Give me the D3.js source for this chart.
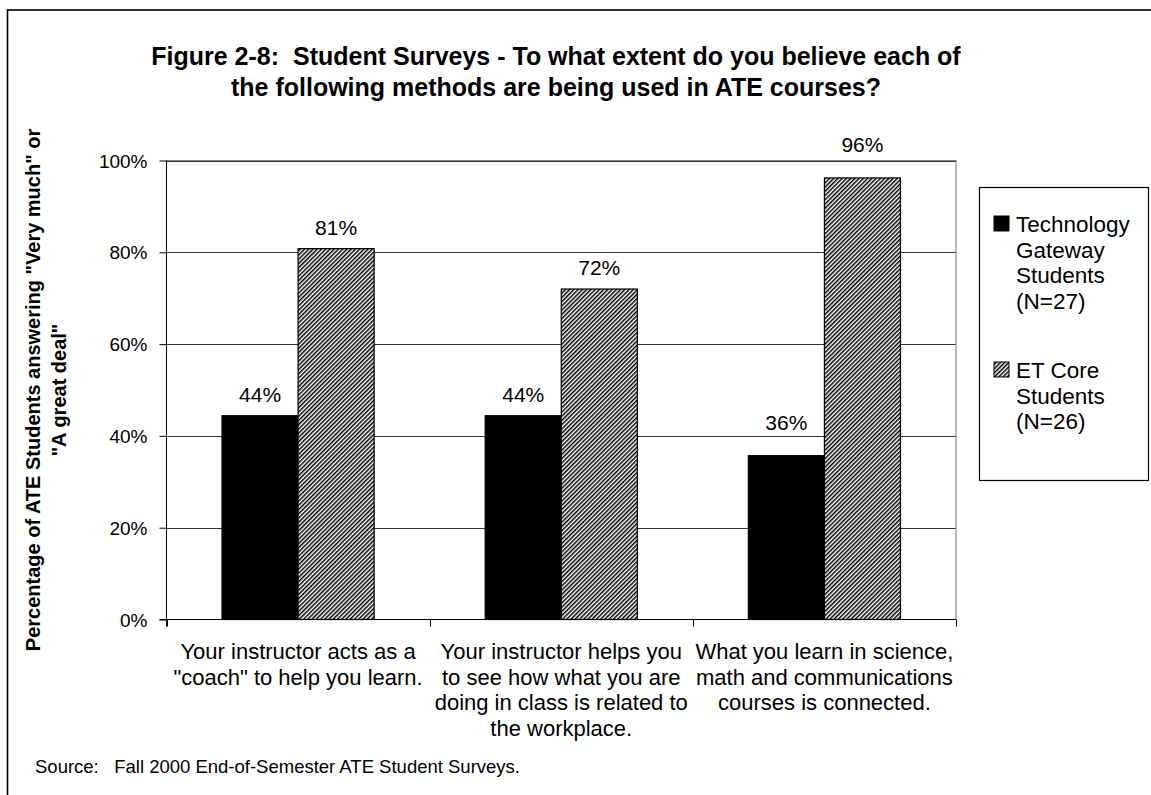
<!DOCTYPE html>
<head>
  <meta charset="utf-8">
  <script src="https://d3js.org/d3.v7.min.js"></script>
  <style>
    body { margin: 0; background: #fff; }
    text { font-family: 'Liberation Sans', Arial, sans-serif; fill: #000; white-space: pre; }
    .title { font-size: 25px; font-weight: bold; }
    .ytitle { font-size: 20px; font-weight: bold; }
    .lbl { font-size: 21px; }
    .cat { font-size: 22px; }
    .leg { font-size: 22.5px; }
    .src { font-size: 18.5px; }
  </style>
</head>
<body>
  <script>
    // values
    var categories = [
      "Your instructor acts as a\n\"coach\" to help you learn.",
      "Your instructor helps you\nto see how what you are\ndoing in class is related to\nthe workplace.",
      "What you learn in science,\nmath and communications\ncourses is connected."
    ];
    var seriesNames = ["Technology\nGateway\nStudents\n(N=27)", "ET Core\nStudents\n(N=26)"];
    var techGateway = [0.444, 0.444, 0.357];
    var etCore = [0.808, 0.72, 0.962];
    var yTicks = [0, 0.2, 0.4, 0.6, 0.8, 1];
    var titleLines = [
      "Figure 2-8:  Student Surveys - To what extent do you believe each of",
      "the following methods are being used in ATE courses?"
    ];
    var yTitleLines = [
      "Percentage of ATE Students answering \"Very much\" or",
      "\"A great deal\""
    ];
    var source = "Source:   Fall 2000 End-of-Semester ATE Student Surveys.";

    var W = 1151, H = 795;
    var plot = { left: 166.5, right: 956, top: 160.5, bottom: 619.5 };
    // the labels of the last group sit a little higher in the original
    var labelLift = [14, 14, 26];

    var svg = d3.select("body").append("svg")
        .attr("width", W)
        .attr("height", H);

    var defs = svg.append("defs");
    var pat = defs.append("pattern")
        .attr("id", "hatch")
        .attr("patternUnits", "userSpaceOnUse")
        .attr("width", 3)
        .attr("height", 3)
        .attr("patternTransform", "rotate(45)");
    pat.append("rect").attr("width", 3).attr("height", 3).attr("fill", "#fff");
    pat.append("rect").attr("width", 1.5).attr("height", 3).attr("fill", "#000");

    var data = categories.map(function(c, i) {
      return { cat: c, idx: i, values: [techGateway[i], etCore[i]] };
    });

    var x0 = d3.scaleBand()
        .domain(categories)
        .range([plot.left, plot.right]);

    var gap = x0.bandwidth() * 0.211;
    var x1 = d3.scaleBand()
        .domain([0, 1])
        .range([gap, x0.bandwidth() - gap]);

    var y = d3.scaleLinear()
        .domain([0, 1])
        .range([plot.bottom, plot.top]);

    // outer frame (runs off the page right and bottom)
    svg.append("rect")
        .attr("x", 7.5).attr("y", 10)
        .attr("width", 1200).attr("height", 900)
        .attr("fill", "none")
        .attr("stroke", "#000")
        .attr("stroke-width", 1.6);

    // title
    svg.append("text")
        .attr("class", "title")
        .attr("text-anchor", "middle")
        .selectAll("tspan")
        .data(titleLines)
      .enter().append("tspan")
        .attr("x", 556)
        .attr("y", function(d, i) { return 65 + i * 31; })
        .text(function(d) { return d; });

    // gridlines
    svg.append("g")
        .selectAll("line")
        .data(yTicks.slice(1))
      .enter().append("line")
        .attr("x1", plot.left).attr("x2", plot.right)
        .attr("y1", function(d) { return Math.round(y(d)) + 0.5; })
        .attr("y2", function(d) { return Math.round(y(d)) + 0.5; })
        .attr("stroke", "#333");

    // plot border (grey)
    svg.append("path")
        .attr("d", "M" + plot.left + "," + plot.top + "H" + plot.right + "V" + plot.bottom)
        .attr("fill", "none")
        .attr("stroke", "#888")
        .attr("stroke-width", 1.2);

    // bars
    var groups = svg.append("g")
        .selectAll("g")
        .data(data)
      .enter().append("g")
        .attr("transform", function(d) { return "translate(" + x0(d.cat) + ",0)"; });

    groups.selectAll("rect")
        .data(function(d) { return d.values; })
      .enter().append("rect")
        .attr("x", function(d, i) { return x1(i); })
        .attr("y", function(d) { return y(d); })
        .attr("width", x1.bandwidth())
        .attr("height", function(d) { return y(0) - y(d); })
        .attr("fill", function(d, i) { return i === 0 ? "#000" : "url(#hatch)"; })
        .attr("stroke", "#000")
        .attr("stroke-width", 1.2);

    groups.each(function(g) {
      d3.select(this).selectAll(".lbl")
          .data(g.values)
        .enter().append("text")
          .attr("class", "lbl")
          .attr("text-anchor", "middle")
          .attr("x", function(d, i) { return x1(i) + x1.bandwidth() / 2; })
          .attr("y", function(d) { return y(d) - labelLift[g.idx]; })
          .text(d3.format(".0%"));
    });

    // y axis
    var yAxis = d3.axisLeft(y)
        .tickValues(yTicks)
        .tickFormat(d3.format(".0%"))
        .tickSize(7)
        .tickPadding(12);

    svg.append("g")
        .attr("class", "y axis")
        .attr("transform", "translate(" + plot.left + ",0)")
        .call(yAxis)
        .call(function(g) {
          g.select(".domain").attr("stroke", "#000").attr("d", "M0," + plot.top + "V" + (plot.bottom + 7));
          g.selectAll(".tick text").style("font-size", "19px").style("font-family", "'Liberation Sans', Arial, sans-serif").attr("dy", "0.35em");
          g.selectAll(".tick line").attr("stroke", "#000");
        });

    // x axis with ticks at the band edges
    var edges = categories.map(function(c) { return x0(c); }).concat([plot.right]);
    svg.append("line")
        .attr("x1", plot.left - 7).attr("x2", plot.right)
        .attr("y1", plot.bottom).attr("y2", plot.bottom)
        .attr("stroke", "#000");
    svg.append("g")
        .selectAll("line")
        .data(edges)
      .enter().append("line")
        .attr("x1", function(d) { return Math.round(d) + 0.5; })
        .attr("x2", function(d) { return Math.round(d) + 0.5; })
        .attr("y1", plot.bottom).attr("y2", plot.bottom + 7)
        .attr("stroke", "#000");

    // category labels
    svg.append("g")
        .selectAll("text")
        .data(categories)
      .enter().append("text")
        .attr("class", "cat")
        .attr("text-anchor", "middle")
        .each(function(c) {
          var cx = x0(c) + x0.bandwidth() / 2;
          d3.select(this).selectAll("tspan")
              .data(c.split("\n"))
            .enter().append("tspan")
              .attr("x", cx)
              .attr("y", function(d, i) { return 659 + i * 25.5; })
              .text(function(d) { return d; });
        });

    // y title
    svg.append("text")
        .attr("class", "ytitle")
        .attr("text-anchor", "middle")
        .attr("transform", "translate(0," + ((plot.top + plot.bottom) / 2) + ") rotate(-90)")
        .selectAll("tspan")
        .data(yTitleLines)
      .enter().append("tspan")
        .attr("x", 0)
        .attr("y", function(d, i) { return 40 + i * 26; })
        .text(function(d) { return d; });

    // legend
    var leg = svg.append("g");
    leg.append("rect")
        .attr("x", 979.5).attr("y", 187.5)
        .attr("width", 169).attr("height", 293)
        .attr("fill", "#fff")
        .attr("stroke", "#000")
        .attr("stroke-width", 1.2);

    var legTop = [232, 378];
    seriesNames.forEach(function(name, i) {
      leg.append("rect")
          .attr("x", 994).attr("y", legTop[i] - 16)
          .attr("width", 15).attr("height", 15)
          .attr("fill", i === 0 ? "#000" : "url(#hatch)")
          .attr("stroke", "#000");
      leg.append("text")
          .attr("class", "leg")
          .selectAll("tspan")
          .data(name.split("\n"))
        .enter().append("tspan")
          .attr("x", 1016)
          .attr("y", function(d, j) { return legTop[i] + j * 25.5; })
          .text(function(d) { return d; });
    });

    // source
    svg.append("text")
        .attr("class", "src")
        .attr("x", 35)
        .attr("y", 773)
        .text(source);
  </script>
</body>
